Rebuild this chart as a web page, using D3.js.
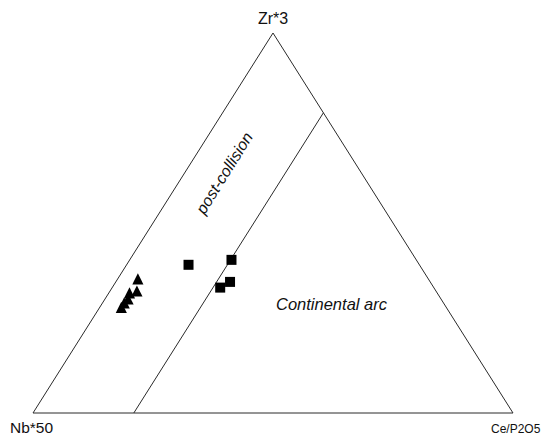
<!DOCTYPE html>
<html>
<head>
<meta charset="utf-8">
<script src="https://cdn.jsdelivr.net/npm/d3@7/dist/d3.min.js"></script>
<style>
  html, body { margin: 0; padding: 0; background: #fff; }
  svg { display: block; font-family: "Liberation Sans", Arial, Helvetica, sans-serif; }
</style>
</head>
<body>
<svg id="chart" width="544" height="437"></svg>
<script>
// Apex labels (top, left, right)
const apexLabels = ["Zr*3", "Nb*50", "Ce/P2O5"];

// Samples as percentages [Zr*3, Nb*50, Ce/P2O5]
const triangleSamples = [
  [35.3, 60.5, 4.2],
  [32.1, 62.3, 5.6],
  [31.6, 64.1, 4.3],
  [30.0, 65.2, 4.8],
  [29.0, 66.5, 4.5],
  [27.8, 67.7, 4.5]
];
const squareSamples = [
  [39.0, 48.1, 12.9],
  [40.3, 38.5, 21.2],
  [34.5, 41.7, 23.8],
  [33.0, 44.5, 22.5]
];

// Field boundary: constant Ce/P2O5 line
const boundary = [
  [0, 79, 21],
  [79, 0, 21]
];

// Field names
const fieldLabels = ["post-collision", "Continental arc"];

const svg = d3.select("#chart");

// Ternary layout: vertical scale for the top component, horizontal scale for c + a/2
const yScale = d3.scaleLinear().domain([0, 1]).range([413, 33]);
const xScale = d3.scaleLinear().domain([0, 1]).range([33, 513]);

function project(d) {
  const s = d[0] + d[1] + d[2];
  const a = d[0] / s, c = d[2] / s;
  return [xScale(c + a / 2), yScale(a)];
}

const line = d3.line().x(d => project(d)[0]).y(d => project(d)[1]);

// Outline of the diagram
const corners = [[100, 0, 0], [0, 100, 0], [0, 0, 100], [100, 0, 0]];
svg.append("path")
  .attr("d", line(corners))
  .attr("fill", "none")
  .attr("stroke", "#2a2a2a")
  .attr("stroke-width", 1);

svg.append("path")
  .attr("d", line(boundary))
  .attr("fill", "none")
  .attr("stroke", "#2a2a2a")
  .attr("stroke-width", 1);

// Apex labels
svg.append("text")
  .attr("x", project([100, 0, 0])[0])
  .attr("y", 23.5)
  .attr("text-anchor", "middle")
  .attr("font-size", 16)
  .attr("fill", "#111")
  .text(apexLabels[0]);

svg.append("text")
  .attr("x", 10)
  .attr("y", 433)
  .attr("font-size", 15.5)
  .attr("fill", "#111")
  .text(apexLabels[1]);

svg.append("text")
  .attr("x", 491)
  .attr("y", 433)
  .attr("font-size", 12)
  .attr("fill", "#111")
  .text(apexLabels[2]);

// Field labels
svg.append("text")
  .attr("transform", "translate(229,176) rotate(-58)")
  .attr("text-anchor", "middle")
  .attr("font-size", 16)
  .attr("font-style", "italic")
  .attr("fill", "#111")
  .text(fieldLabels[0]);

svg.append("text")
  .attr("x", 276)
  .attr("y", 309.5)
  .attr("font-size", 16.5)
  .attr("font-style", "italic")
  .attr("fill", "#111")
  .text(fieldLabels[1]);

// Upward triangle centred on its bounding box
const triangleSymbol = {
  draw(ctx, size) {
    const h = Math.sqrt(size);
    const w = h;
    ctx.moveTo(0, -h / 2);
    ctx.lineTo(w / 2, h / 2);
    ctx.lineTo(-w / 2, h / 2);
    ctx.closePath();
  }
};

svg.append("g")
  .selectAll("path")
  .data(triangleSamples)
  .join("path")
  .attr("transform", d => `translate(${project(d)[0]},${project(d)[1]})`)
  .attr("d", d3.symbol().type(triangleSymbol).size(125))
  .attr("fill", "#000");

svg.append("g")
  .selectAll("rect")
  .data(squareSamples)
  .join("rect")
  .attr("x", d => project(d)[0] - 5)
  .attr("y", d => project(d)[1] - 5)
  .attr("width", 10)
  .attr("height", 10)
  .attr("fill", "#000");
</script>
</body>
</html>
